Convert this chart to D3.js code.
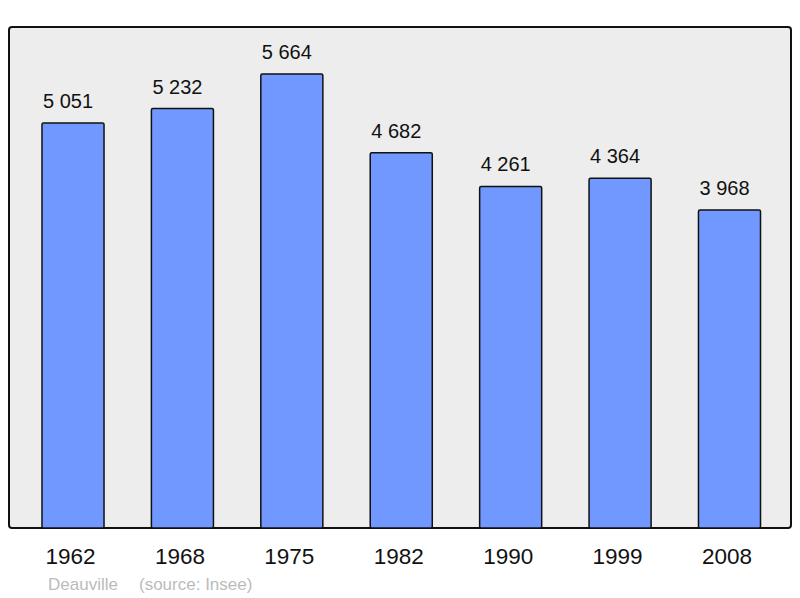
<!DOCTYPE html>
<meta charset="utf-8">
<style>
  body { margin: 0; background: #fff; }
  text { font-family: "Liberation Sans", Arial, sans-serif; }
</style>
<body>
<script src="https://cdn.jsdelivr.net/npm/d3@7"></script>
<script>

var years = ["1962", "1968", "1975", "1982", "1990", "1999", "2008"];
var population = [5051, 5232, 5664, 4682, 4261, 4364, 3968];
var town = "Deauville";
var source = "(source: Insee)";

var width = 800, height = 598;
var panel = {left: 9, top: 27, right: 791, bottom: 528};

var svg = d3.select("body").append("svg")
    .attr("width", width)
    .attr("height", height);

svg.append("rect")
    .attr("x", panel.left)
    .attr("y", panel.top)
    .attr("width", panel.right - panel.left)
    .attr("height", panel.bottom - panel.top)
    .attr("rx", 3)
    .attr("fill", "#ededed")
    .attr("stroke", "#111")
    .attr("stroke-width", 2);

var x = d3.scaleBand()
    .domain(years)
    .range([18.3, 784.2])
    .paddingInner(0.433)
    .paddingOuter(0.2165);

var y = d3.scaleLinear()
    .domain([0, 6250])
    .range([panel.bottom, panel.top]);

var bars = svg.selectAll("g.bar")
    .data(population)
    .enter().append("g")
    .attr("class", "bar");

bars.append("rect")
    .attr("x", function(d, i) { return x(years[i]); })
    .attr("y", function(d) { return y(d); })
    .attr("width", x.bandwidth())
    .attr("height", function(d) { return y(0) - y(d); })
    .attr("rx", 1.5)
    .attr("fill", "#7098ff")
    .attr("stroke", "#111")
    .attr("stroke-width", 1.5);

// the labels sit a little left of the bar centres in the original
bars.append("text")
    .attr("x", function(d, i) { return x(years[i]) + x.bandwidth() / 2 - 5; })
    .attr("y", function(d) { return y(d) - 15; })
    .attr("text-anchor", "middle")
    .attr("font-size", 20)
    .attr("fill", "#111")
    .text(function(d) { return d3.format(",")(d).replace(",", " "); });

// year labels under the panel
var xAxis = svg.append("g")
    .attr("transform", "translate(0," + panel.bottom + ")")
    .call(d3.axisBottom(x).tickSize(0));
xAxis.select(".domain").remove();
xAxis.selectAll("text")
    .attr("y", 36)
    .attr("dy", 0)
    .attr("dx", -2.5)
    .attr("font-size", 22.5)
    .attr("font-family", "Liberation Sans, Arial, sans-serif")
    .attr("fill", "#111");

svg.append("text")
    .attr("x", 48)
    .attr("y", 590)
    .attr("font-size", 17)
    .attr("fill", "#bbb")
    .text(town);

svg.append("text")
    .attr("x", 139)
    .attr("y", 590)
    .attr("font-size", 17)
    .attr("fill", "#bbb")
    .text(source);

</script>
</body>
